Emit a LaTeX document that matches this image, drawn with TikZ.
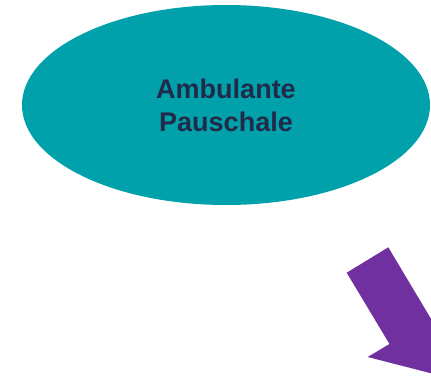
\documentclass[tikz,border=0pt]{standalone}
\usepackage{fontspec}
\setmainfont{Liberation Sans}
\usetikzlibrary{shapes.geometric}
\definecolor{tealfill}{HTML}{00A1AB}
\definecolor{purplearrow}{HTML}{7030A0}
\definecolor{navytext}{HTML}{222A4A}
\tikzset{
  bubble/.style={ellipse, fill=tealfill, minimum width=408pt, minimum height=200pt, inner sep=0pt,
    font=\bfseries\fontsize{27}{33}\selectfont, text=navytext, align=center},
  bigarrow/.style={fill=purplearrow}
}
\begin{document}
\begin{tikzpicture}[x=1pt,y=-1pt]
\useasboundingbox (0,0) rectangle (431,375);
\clip (0,0) rectangle (431,375);
\node[bubble] (amb) at (226,105) {Ambulante\\Pauschale};
\fill[bigarrow] (346.7,272.7) -- (388.3,247.3) -- (431.1,319) -- (452.9,306) -- (436.2,374.6) -- (367.7,357) -- (389.5,344) -- cycle;
\end{tikzpicture}
\end{document}
